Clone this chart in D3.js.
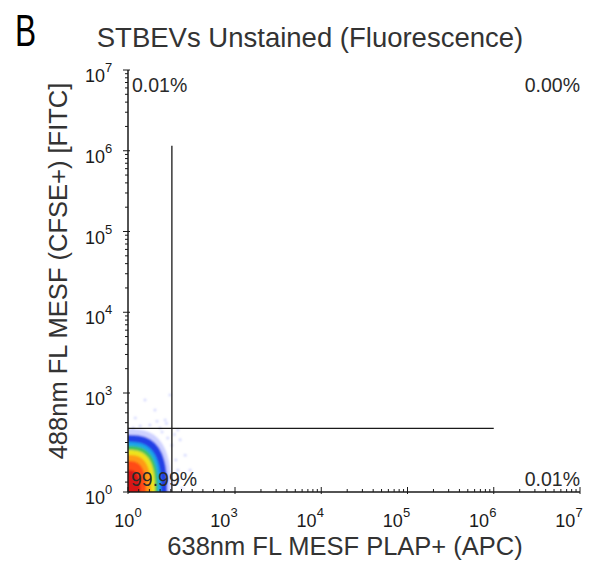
<!DOCTYPE html>
<html>
<head>
<meta charset="utf-8">
<script src="https://cdn.jsdelivr.net/npm/d3@7"></script>
<style>
  html, body { margin: 0; padding: 0; background: #ffffff; }
  svg { display: block; }
  text { font-family: "Liberation Sans", Arial, sans-serif; }
</style>
</head>
<body>
<svg id="chart" width="602" height="564"></svg>
<script>
// ---- data -------------------------------------------------------------
const panelLetter = "B";
const chartTitle = "STBEVs Unstained (Fluorescence)";
const xAxisTitle = "638nm FL MESF PLAP+ (APC)";
const yAxisTitle = "488nm FL MESF (CFSE+) [FITC]";

// axis extents (MESF) and labelled decades
const axisMin = 1;
const axisLinEnd = 1e3;   // end of the compressed low-signal segment
const axisMax = 1e7;
const xTickValues = [1, 1e3, 1e4, 1e5, 1e6, 1e7];
const yTickValues = [1, 1e3, 1e4, 1e5, 1e6, 1e7];
const tickExponents = [0, 3, 4, 5, 6, 7];

// quadrant gate (MESF)
const gateX = 17;
const gateY = 85;
const gateXEnd = 1e6;      // horizontal gate line extends to this APC value
const gateYEnd = 1.15e6;   // vertical gate line extends to this FITC value

// quadrant percentages
const quadrantNames = ["UL", "UR", "LL", "LR"];
const quadrantPercents = ["0.01%", "0.00%", "99.99%", "0.01%"];

// density bands of the event cloud: outer extent along each axis (MESF), outer to inner
const bandColors = ["#9ea4ff", "#2340e6", "#1aa6ea", "#3fc35c", "#eee41f", "#ff9a12", "#ff4b12", "#d81212"];
const bandXExtent = [16, 12.4, 8.4, 6.9, 5.7, 4.4, 3.2, 2.2];
const bandYExtent = [81, 53, 32.7, 24.8, 18.7, 13.2, 8.7, 4.6];
const bandOpacity = [0.5, 1, 1, 1, 1, 1, 1, 1];

// sparse outlying events (APC, FITC)
const outlierX = [17, 13, 7.9, 4.1, 2.2, 22, 25, 25, 11, 1.6, 5.7, 29, 3, 15, 40, 9, 1.4, 25, 55, 33, 19.5, 12, 6.5, 20];
const outlierY = [26, 43, 87, 107, 100, 9.3, 4.6, 2.3, 152, 174, 303, 38, 613, 870, 13, 66, 87, 76, 4.6, 1.3, 1.75, 120, 140, 55];

// ---- scales -----------------------------------------------------------
const svg = d3.select("#chart");
const x = d3.scaleLog().domain([axisMin, axisLinEnd, axisMax]).range([128, 235, 580]);
const y = d3.scaleLog().domain([axisMin, axisLinEnd, axisMax]).range([492, 393, 70]);

const ink = "#1a1a1a";
const textInk = "#333333";

// ---- titles -----------------------------------------------------------
svg.append("text")
  .attr("transform", "translate(15,46) scale(0.72,1)")
  .attr("font-size", 44)
  .attr("fill", "#000")
  .text(panelLetter);

svg.append("text")
  .attr("x", 310).attr("y", 47)
  .attr("text-anchor", "middle")
  .attr("font-size", 27.5)
  .attr("fill", textInk)
  .text(chartTitle);

svg.append("text")
  .attr("x", 345).attr("y", 555)
  .attr("text-anchor", "middle")
  .attr("font-size", 25.5)
  .attr("fill", textInk)
  .text(xAxisTitle);

svg.append("text")
  .attr("transform", "translate(67,271) rotate(-90)")
  .attr("text-anchor", "middle")
  .attr("font-size", 25.5)
  .attr("fill", textInk)
  .text(yAxisTitle);

// ---- density cloud ----------------------------------------------------
const defs = svg.append("defs");
defs.append("clipPath").attr("id", "plotClip")
  .append("rect")
  .attr("x", x(axisMin)).attr("y", y(axisMax))
  .attr("width", x(axisMax) - x(axisMin))
  .attr("height", y(axisMin) - y(axisMax));
defs.append("filter").attr("id", "soft")
  .attr("x", "-20%").attr("y", "-20%").attr("width", "140%").attr("height", "140%")
  .append("feGaussianBlur").attr("stdDeviation", 1.3);

// rounded quarter-blob anchored at the lower-left corner of the plot
function blobPath(xv, yv) {
  const x0 = x(axisMin), y0 = y(axisMin);
  const rx = x(xv) - x0, ry = y0 - y(yv);
  const n = 2.8;
  const pts = [[x0 - 6, y0 + 6], [x0 - 6, y0 - ry]];
  for (let i = 0; i <= 40; i++) {
    const t = (Math.PI / 2) * (i / 40);
    const c = Math.pow(Math.sin(t), 2 / n), s = Math.pow(Math.cos(t), 2 / n);
    pts.push([x0 + rx * c, y0 - ry * s]);
  }
  pts.push([x0 + rx, y0 + 6]);
  return d3.line()(pts) + "Z";
}

const cloud = svg.append("g").attr("clip-path", "url(#plotClip)")
  .append("g").attr("filter", "url(#soft)");

cloud.selectAll("circle.outlier")
  .data(outlierX.map((v, i) => [v, outlierY[i]]))
  .join("circle")
  .attr("class", "outlier")
  .attr("cx", d => x(d[0]))
  .attr("cy", d => y(d[1]))
  .attr("r", 1.3)
  .attr("fill", "#a9b0ff")
  .attr("opacity", 0.6);

cloud.selectAll("path.band")
  .data(bandColors.map((c, i) => ({ c, xv: bandXExtent[i], yv: bandYExtent[i], o: bandOpacity[i] })))
  .join("path")
  .attr("class", "band")
  .attr("d", d => blobPath(d.xv, d.yv))
  .attr("fill", d => d.c)
  .attr("fill-opacity", d => d.o);

// ---- gate lines -------------------------------------------------------
svg.append("line")
  .attr("x1", x(gateX)).attr("x2", x(gateX))
  .attr("y1", y(axisMin)).attr("y2", y(gateYEnd))
  .attr("stroke", ink).attr("stroke-width", 1.3);
svg.append("line")
  .attr("x1", x(axisMin)).attr("x2", x(gateXEnd))
  .attr("y1", y(gateY)).attr("y2", y(gateY))
  .attr("stroke", ink).attr("stroke-width", 1.3);

// ---- axes -------------------------------------------------------------
const axisG = svg.append("g").attr("stroke", ink).attr("stroke-width", 1.5);
axisG.append("line")
  .attr("x1", x(axisMin)).attr("x2", x(axisMin))
  .attr("y1", y(axisMin)).attr("y2", y(axisMax));
axisG.append("line")
  .attr("x1", x(axisMin)).attr("x2", x(axisMax))
  .attr("y1", y(axisMin)).attr("y2", y(axisMin));

// minor ticks: evenly spaced in the low segment, 2..9 per decade above it
const minorTicks = [];
for (let i = 1; i < 10; i++) minorTicks.push(Math.pow(axisLinEnd, i / 10));
for (let e = 3; e < 7; e++) for (let m = 2; m < 10; m++) minorTicks.push(m * Math.pow(10, e));
const majorTicks = xTickValues;

const tickG = svg.append("g").attr("stroke", ink).attr("stroke-width", 1);
tickG.selectAll("line.ymin").data(minorTicks).join("line")
  .attr("x1", x(axisMin) - 3).attr("x2", x(axisMin))
  .attr("y1", d => y(d)).attr("y2", d => y(d));
tickG.selectAll("line.ymaj").data(majorTicks).join("line")
  .attr("x1", x(axisMin) - 5).attr("x2", x(axisMin) + 2)
  .attr("y1", d => y(d)).attr("y2", d => y(d));
tickG.selectAll("line.xmin").data(minorTicks).join("line")
  .attr("x1", d => x(d)).attr("x2", d => x(d))
  .attr("y1", y(axisMin)).attr("y2", y(axisMin) - 3);
tickG.selectAll("line.xmaj").data(majorTicks).join("line")
  .attr("x1", d => x(d)).attr("x2", d => x(d))
  .attr("y1", y(axisMin) + 2).attr("y2", y(axisMin) - 5);

// tick labels as 10 with superscript exponent
function powerLabel(sel) {
  sel.append("tspan").attr("font-size", 18).text("10");
  sel.append("tspan").attr("font-size", 13).attr("dy", -10).text(d => d.e);
}
svg.selectAll("text.xtick")
  .data(xTickValues.map((v, i) => ({ v, e: tickExponents[i] })))
  .join("text")
  .attr("class", "xtick")
  .attr("x", d => x(d.v) - (d.v > axisMin ? 11 : 0))
  .attr("y", 527)
  .attr("text-anchor", "middle")
  .attr("fill", ink)
  .call(powerLabel);

svg.selectAll("text.ytick")
  .data(yTickValues.map((v, i) => ({ v, e: tickExponents[i] })))
  .join("text")
  .attr("class", "ytick")
  .attr("x", 85)
  .attr("y", d => y(d.v) + 12)
  .attr("fill", ink)
  .call(powerLabel);

// ---- quadrant percentages ---------------------------------------------
const qPos = {
  UL: { x: x(axisMin) + 4, y: y(axisMax) + 22, anchor: "start" },
  UR: { x: x(axisMax), y: y(axisMax) + 22, anchor: "end" },
  LL: { x: x(axisMin) + 3, y: y(axisMin) - 6, anchor: "start" },
  LR: { x: x(axisMax), y: y(axisMin) - 6, anchor: "end" }
};
svg.selectAll("text.quad")
  .data(quadrantNames.map((q, i) => ({ q, t: quadrantPercents[i] })))
  .join("text")
  .attr("class", "quad")
  .attr("x", d => qPos[d.q].x)
  .attr("y", d => qPos[d.q].y)
  .attr("text-anchor", d => qPos[d.q].anchor)
  .attr("font-size", 19.5)
  .attr("fill", "#2a2a2a")
  .text(d => d.t);
</script>
</body>
</html>
